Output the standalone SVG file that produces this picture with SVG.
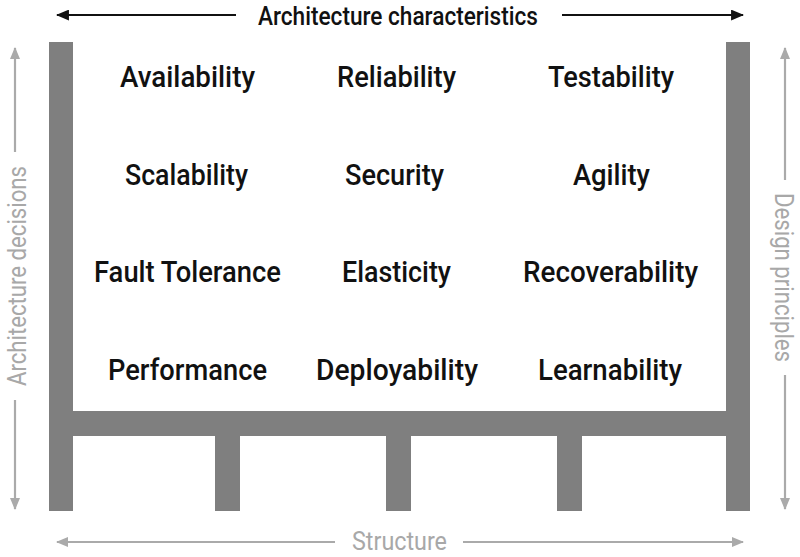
<svg xmlns="http://www.w3.org/2000/svg" width="800" height="557" viewBox="0 0 800 557">
<style>
.lbl{font-family:Roboto,"Liberation Sans",sans-serif;font-weight:500;font-size:30px;fill:#111}
.top{font-family:Roboto,"Liberation Sans",sans-serif;font-weight:500;font-size:25px;fill:#111}
.side{font-family:Roboto,"Liberation Sans",sans-serif;font-weight:400;font-size:26px;fill:#a8a8a8}
.frame{fill:#7f7f7f}
.blk{stroke:#111;stroke-width:2.2;fill:none}
.gry{stroke:#aaaaaa;stroke-width:2.2;fill:none}
</style>
<defs>
<marker id="ab" viewBox="0 0 12 10" refX="11" refY="5" markerWidth="13" markerHeight="11" markerUnits="userSpaceOnUse" orient="auto"><path d="M0,0 L12,5 L0,10 Z" fill="#111"/></marker>
<marker id="ag" viewBox="0 0 12 10" refX="11" refY="5" markerWidth="12" markerHeight="10" markerUnits="userSpaceOnUse" orient="auto"><path d="M0,0 L12,5 L0,10 Z" fill="#aaaaaa"/></marker>
</defs>
<rect width="800" height="557" fill="#fff"/>
<g id="structure">
<rect class="frame" x="49" y="42" width="24" height="469"/>
<rect class="frame" x="726" y="42" width="24" height="469"/>
<rect class="frame" x="49" y="411" width="701" height="25"/>
<rect class="frame" x="215" y="436" width="25" height="75"/>
<rect class="frame" x="386" y="436" width="25" height="75"/>
<rect class="frame" x="557" y="436" width="25" height="75"/>
</g>
<g id="connectors">
<line class="blk" x1="236" y1="15" x2="57" y2="15" marker-end="url(#ab)"/>
<line class="blk" x1="562" y1="15" x2="743" y2="15" marker-end="url(#ab)"/>
<line class="gry" x1="15" y1="152" x2="15" y2="48" marker-end="url(#ag)"/>
<line class="gry" x1="15" y1="400" x2="15" y2="509" marker-end="url(#ag)"/>
<line class="gry" x1="785" y1="180" x2="785" y2="48" marker-end="url(#ag)"/>
<line class="gry" x1="785" y1="375" x2="785" y2="509" marker-end="url(#ag)"/>
<line class="gry" x1="335" y1="542" x2="57" y2="542" marker-end="url(#ag)"/>
<line class="gry" x1="463" y1="542" x2="743" y2="542" marker-end="url(#ag)"/>
</g>
<g id="axis-labels">
<text id="t-arch-char" class="top" x="258" y="25" textLength="280" lengthAdjust="spacingAndGlyphs">Architecture characteristics</text>
<text id="t-structure" class="side" x="352" y="550" textLength="95" lengthAdjust="spacingAndGlyphs">Structure</text>
<text id="t-arch-dec" class="side" transform="translate(26,386) rotate(-90)" x="0" y="0" textLength="220" lengthAdjust="spacingAndGlyphs">Architecture decisions</text>
<text id="t-design" class="side" transform="translate(775,193) rotate(90)" x="0" y="0" textLength="169" lengthAdjust="spacingAndGlyphs">Design principles</text>
</g>
<g id="availability"><text class="lbl" x="120" y="87" textLength="135" lengthAdjust="spacingAndGlyphs">Availability</text></g>
<g id="reliability"><text class="lbl" x="337" y="87" textLength="119" lengthAdjust="spacingAndGlyphs">Reliability</text></g>
<g id="testability"><text class="lbl" x="548" y="87" textLength="126" lengthAdjust="spacingAndGlyphs">Testability</text></g>
<g id="scalability"><text class="lbl" x="125" y="185" textLength="123" lengthAdjust="spacingAndGlyphs">Scalability</text></g>
<g id="security"><text class="lbl" x="345" y="185" textLength="99" lengthAdjust="spacingAndGlyphs">Security</text></g>
<g id="agility"><text class="lbl" x="573" y="185" textLength="77" lengthAdjust="spacingAndGlyphs">Agility</text></g>
<g id="fault-tolerance"><text class="lbl" x="94" y="282" textLength="187" lengthAdjust="spacingAndGlyphs">Fault Tolerance</text></g>
<g id="elasticity"><text class="lbl" x="342" y="282" textLength="109" lengthAdjust="spacingAndGlyphs">Elasticity</text></g>
<g id="recoverability"><text class="lbl" x="523" y="282" textLength="175" lengthAdjust="spacingAndGlyphs">Recoverability</text></g>
<g id="performance"><text class="lbl" x="108" y="380" textLength="159" lengthAdjust="spacingAndGlyphs">Performance</text></g>
<g id="deployability"><text class="lbl" x="316" y="380" textLength="162" lengthAdjust="spacingAndGlyphs">Deployability</text></g>
<g id="learnability"><text class="lbl" x="538" y="380" textLength="144" lengthAdjust="spacingAndGlyphs">Learnability</text></g>
</svg>
